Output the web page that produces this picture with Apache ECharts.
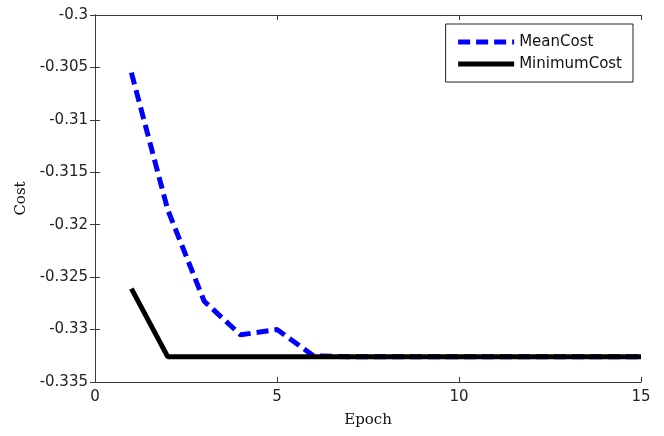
<!DOCTYPE html>
<html>
<head>
<meta charset="utf-8">
<script src="https://cdn.jsdelivr.net/npm/echarts@6/dist/echarts.min.js"></script>
<style>
  html, body { margin: 0; padding: 0; background: #fff; }
  #chart { width: 664px; height: 436px; }
</style>
</head>
<body>
<div id="chart"></div>
<script>
// values
const epochs = [1, 2, 3, 4, 5, 6, 7, 8, 9, 10, 11, 12, 13, 14, 15];
const meanCost = [-0.3055, -0.3186, -0.3273, -0.3305, -0.3300, -0.3325, -0.3326, -0.3326,
  -0.3326, -0.3326, -0.3326, -0.3326, -0.3326, -0.3326, -0.3326];
const minimumCost = [-0.3261, -0.3326, -0.3326, -0.3326, -0.3326, -0.3326, -0.3326, -0.3326,
  -0.3326, -0.3326, -0.3326, -0.3326, -0.3326, -0.3326, -0.3326];
const seriesNames = ["MeanCost", "MinimumCost"];

const chart = echarts.init(document.getElementById("chart"));

const axisColor = "#3a3a3a";
const labelFont = { fontFamily: "DejaVu Sans", fontSize: 15, color: "#222" };
const nameFont = { fontFamily: "DejaVu Serif", fontSize: 15, color: "#111" };

function pairs(ys) {
  return epochs.map((x, i) => [x, ys[i]]);
}

const xBase = {
  type: "value",
  min: 0,
  max: 15,
  interval: 5,
  axisLine: { show: true, lineStyle: { color: axisColor, width: 1 } },
  axisTick: { show: true, inside: true, length: 5, lineStyle: { color: axisColor } },
  splitLine: { show: false }
};
const yBase = {
  type: "value",
  min: -0.335,
  max: -0.3,
  interval: 0.005,
  axisLine: { show: true, lineStyle: { color: axisColor, width: 1 } },
  axisTick: { show: true, inside: true, length: 5, lineStyle: { color: axisColor } },
  splitLine: { show: false }
};

const option = {
  animation: false,
  backgroundColor: "#fff",
  grid: { left: 95, right: 23, top: 15, bottom: 54 },
  legend: {
    data: seriesNames,
    orient: "vertical",
    right: 31,
    top: 24,
    padding: [9, 11, 9, 10],
    itemGap: 4,
    itemWidth: 56,
    itemHeight: 14,
    itemStyle: { opacity: 0 },
    lineStyle: { width: 5 },
    backgroundColor: "#fff",
    borderColor: "#222",
    borderWidth: 1,
    borderRadius: 0,
    textStyle: { fontFamily: "DejaVu Sans", fontSize: 15, color: "#111", lineHeight: 18 }
  },
  xAxis: [
    Object.assign({}, xBase, {
      position: "bottom",
      name: "Epoch",
      nameLocation: "middle",
      nameGap: 31,
      nameTextStyle: nameFont,
      axisLabel: Object.assign({ margin: 8 }, labelFont)
    }),
    Object.assign({}, xBase, { position: "top", axisLabel: { show: false } })
  ],
  yAxis: [
    Object.assign({}, yBase, {
      position: "left",
      name: "Cost",
      nameLocation: "middle",
      nameGap: 66,
      nameTextStyle: nameFont,
      axisLabel: Object.assign({ margin: 7 }, labelFont)
    }),
    Object.assign({}, yBase, { position: "right", axisLabel: { show: false } })
  ],
  series: [
    {
      name: seriesNames[0],
      type: "line",
      data: pairs(meanCost),
      showSymbol: false,
      symbol: "none",
      color: "#0000ff",
      lineStyle: { color: "#0000ff", width: 5, type: [12, 6] },
      z: 2
    },
    {
      name: seriesNames[1],
      type: "line",
      data: pairs(minimumCost),
      showSymbol: false,
      symbol: "none",
      color: "#000",
      lineStyle: { color: "#000", width: 5 },
      z: 3
    }
  ]
};

chart.setOption(option);
</script>
</body>
</html>
